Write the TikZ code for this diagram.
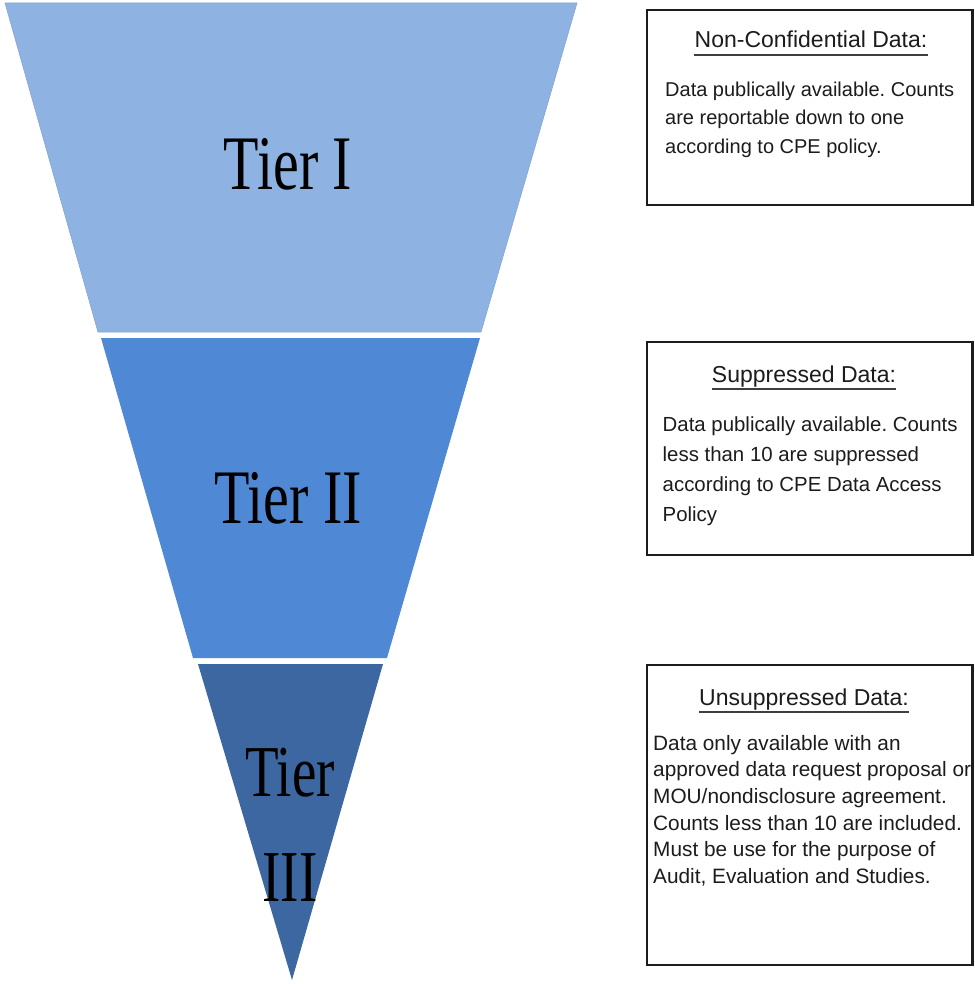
\documentclass[tikz,border=0pt]{standalone}
\usepackage{graphicx}
\usepackage{fontspec}
\setmainfont{Liberation Serif}
\newfontfamily\boxfont{Liberation Sans}
\frenchspacing

\definecolor{tierone}{HTML}{8EB3E3}
\definecolor{tieroneedge}{HTML}{84A6D2}
\definecolor{tiertwo}{HTML}{4F89D6}
\definecolor{tierthree}{HTML}{3C67A1}
\definecolor{ink}{HTML}{1C1C1C}

\tikzset{
  tierlabel/.style={inner sep=0pt, text=black,
    font=\fontsize{58}{60}\selectfont},
  infobox/.style={draw=ink, line width=2.4pt, fill=white},
  boxtitle/.style={inner sep=0pt, anchor=base, text=ink,
    font=\boxfont\fontsize{23}{26}\selectfont},
  % multi-line body text: the base anchor sits on the last line
  boxbody/.style={inner sep=0pt, anchor=base west, align=left, text=ink},
  titleline/.style={draw=ink!85, line width=1.8pt},
}

\begin{document}
\begin{tikzpicture}[x=1pt, y=-1pt]
  \useasboundingbox (0,0) rectangle (974,984);

  % inverted pyramid, three bands
  \fill[tierone] (5,3) -- (577,3) -- (481,332) -- (98,332) -- cycle;
  \draw[tieroneedge, line width=0.6pt] (5,3) -- (577,3) -- (481,332) -- (98,332) -- cycle;
  \fill[tiertwo] (101,338) -- (480,338) -- (387,658) -- (193,658) -- cycle;
  \fill[tierthree] (198,664) -- (383,664) -- (292,980) -- cycle;

  \node[tierlabel] (tier1) at (288,164) {\scalebox{1}[1.33]{Tier I}};
  \node[tierlabel] (tier2) at (288,498) {\scalebox{1}[1.33]{Tier II}};
  \node[tierlabel, align=center, font=\fontsize{55}{105}\selectfont]
    (tier3) at (290,824.5) {\scalebox{1}[1.33]{Tier}\\\scalebox{1}[1.33]{III}};

  % description boxes
  \draw[infobox] (647,10) rectangle (972.5,205);
  \draw[infobox] (647,342) rectangle (972.5,555);
  \draw[infobox] (647,665) rectangle (972.5,965);

  \node[boxtitle] (t1) at (811,48) {Non-Confidential Data:};
  \draw[titleline] ([yshift=-7pt]t1.base west) -- ([yshift=-7pt]t1.base east);
  \node[boxbody, font=\boxfont\fontsize{20}{28.3}\selectfont] (d1) at (665,153.3)
    {Data publically available. Counts\\are reportable down to one\\according to CPE policy.};

  \node[boxtitle] (t2) at (804,382) {Suppressed Data:};
  \draw[titleline] ([yshift=-7pt]t2.base west) -- ([yshift=-7pt]t2.base east);
  \node[boxbody, font=\boxfont\fontsize{20.4}{30}\selectfont] (d2) at (662.5,521.7)
    {Data publically available. Counts\\less than 10 are suppressed\\according to CPE Data Access\\Policy};

  \node[boxtitle] (t3) at (804,705) {Unsuppressed Data:};
  \draw[titleline] ([yshift=-7pt]t3.base west) -- ([yshift=-7pt]t3.base east);
  \node[boxbody, font=\boxfont\fontsize{20.8}{26.7}\selectfont] (d3) at (653,883.5)
    {Data only available with an\\approved data request proposal or\\MOU/nondisclosure agreement.\\Counts less than 10 are included.\\Must be use for the purpose of\\Audit, Evaluation and Studies.};
\end{tikzpicture}
\end{document}
